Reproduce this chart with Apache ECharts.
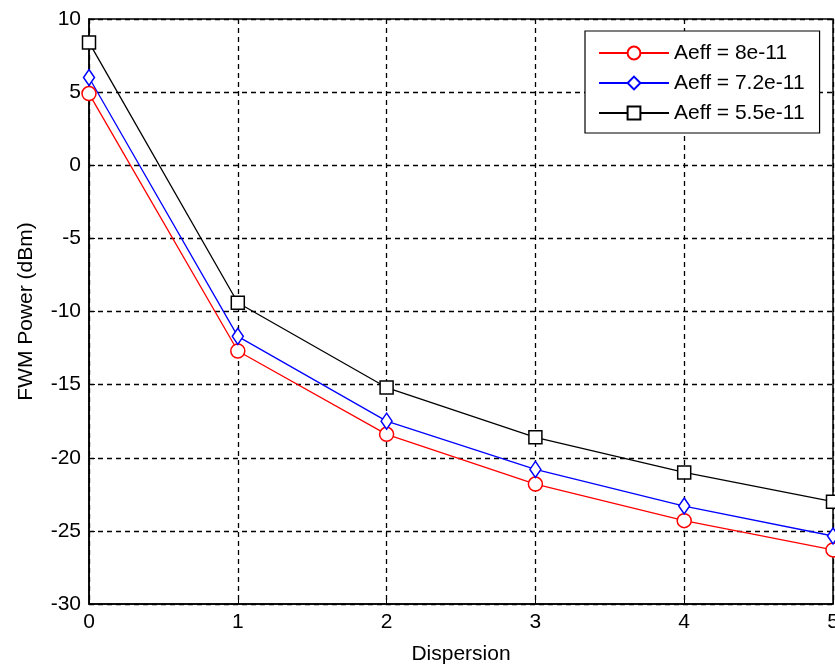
<!DOCTYPE html>
<html>
<head>
<meta charset="utf-8">
<script src="https://cdn.jsdelivr.net/npm/echarts@6/dist/echarts.min.js"></script>
<style>html,body{margin:0;padding:0;background:#fff}#c{width:835px;height:669px}</style>
</head>
<body>
<div id="c"></div>
<script>
const dispersion = [0, 1, 2, 3, 4, 5];
const aeff80 = [4.9, -12.7, -18.4, -21.8, -24.3, -26.3];
const aeff72 = [6.0, -11.7, -17.5, -20.8, -23.3, -25.35];
const aeff55 = [8.4, -9.4, -15.2, -18.6, -21.0, -23.0];
const seriesNames = ['Aeff = 8e-11', 'Aeff = 7.2e-11', 'Aeff = 5.5e-11'];

const FONT = 'Liberation Sans';
const pairs = arr => dispersion.map((x, i) => [x, arr[i]]);

function mk(name, data, color, symbol, size) {
  return {
    name, type: 'line', data: pairs(data), clip: false,
    symbol, symbolSize: size, showSymbol: true,
    lineStyle: { color, width: 1.3 },
    itemStyle: { color: '#fff', borderColor: color, borderWidth: 1.5 },
    emphasis: { disabled: true }, animation: false
  };
}

const chart = echarts.init(document.getElementById('c'), null, { renderer: 'canvas' });
chart.setOption({
  animation: false,
  backgroundColor: '#fff',
  grid: { left: 89, top: 19, right: 2, bottom: 65, show: true, borderColor: '#000', borderWidth: 1.5, backgroundColor: 'transparent', containLabel: false, outerBoundsMode: 'none' },
  legend: {
    orient: 'vertical', left: 585, top: 31,
    data: seriesNames,
    backgroundColor: '#fff', borderColor: '#000', borderWidth: 1.2,
    padding: [10, 15, 8, 13],
    itemWidth: 70, itemHeight: 16, itemGap: 6,
    textStyle: { fontFamily: FONT, fontSize: 21, color: '#000', lineHeight: 24 }
  },
  xAxis: {
    type: 'value', min: 0, max: 5, interval: 1,
    name: 'Dispersion', nameLocation: 'middle', nameGap: 40,
    nameTextStyle: { fontFamily: FONT, fontSize: 21, color: '#000' },
    axisLine: { show: true, onZero: false, lineStyle: { color: '#000', width: 1.5 } },
    axisTick: { show: true, inside: true, length: 6, lineStyle: { color: '#000' } },
    axisLabel: { fontFamily: FONT, fontSize: 21, color: '#000', margin: 8 },
    splitLine: { show: true, lineStyle: { color: '#000', type: [5, 4], width: 1.3 } }
  },
  yAxis: {
    type: 'value', min: -30, max: 10, interval: 5,
    name: 'FWM Power (dBm)', nameLocation: 'middle', nameGap: 52,
    nameTextStyle: { fontFamily: FONT, fontSize: 21, color: '#000' },
    axisLine: { show: true, onZero: false, lineStyle: { color: '#000', width: 1.5 } },
    axisTick: { show: true, inside: true, length: 6, lineStyle: { color: '#000' } },
    axisLabel: { fontFamily: FONT, fontSize: 21, color: '#000', margin: 8 },
    splitLine: { show: true, lineStyle: { color: '#000', type: [5, 4], width: 1.3 } }
  },
  series: [
    mk(seriesNames[0], aeff80, '#ff0000', 'circle', 14),
    mk(seriesNames[1], aeff72, '#0000ff', 'diamond', [11, 16]),
    mk(seriesNames[2], aeff55, '#000000', 'rect', 13)
  ]
});
</script>
</body>
</html>
